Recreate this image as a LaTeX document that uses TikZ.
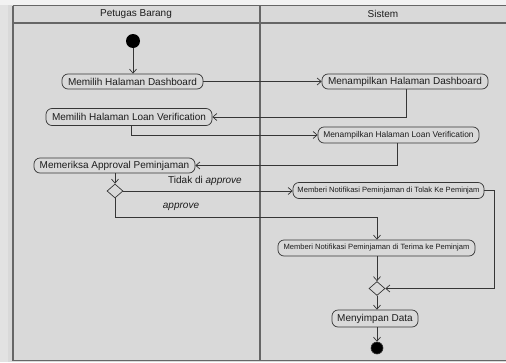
\documentclass[tikz,border=0pt]{standalone}
\usepackage{fontspec}
\setmainfont{Liberation Sans}
\usetikzlibrary{arrows.meta,shapes.geometric}
\definecolor{lanebg}{HTML}{D9D9D9}
\definecolor{edgebg}{HTML}{E2E2E2}
\definecolor{topbg}{HTML}{F2F2F2}
\definecolor{framecol}{HTML}{666666}
\definecolor{inkcol}{HTML}{363636}
\definecolor{txtcol}{HTML}{1C1C1C}
\begin{document}
\begin{tikzpicture}[x=1pt,y=-1pt,
  act/.style={draw=inkcol,line width=0.7pt,rounded corners=6pt,fill=lanebg,
    inner sep=0pt,text=txtcol,font=\fontsize{10}{12}\selectfont},
  actsmall/.style={act,font=\fontsize{8.4}{10}\selectfont},
  acttiny/.style={act,font=\fontsize{7.6}{9}\selectfont},
  decision/.style={draw=inkcol,line width=0.7pt,fill=lanebg,diamond,inner sep=0pt,
    minimum width=16pt,minimum height=14pt},
  startnode/.style={circle,fill=black,inner sep=0pt,minimum size=14pt},
  endnode/.style={circle,fill=black,draw=inkcol,line width=0.6pt,inner sep=0pt,minimum size=12pt},
  flow/.style={draw=inkcol,line width=0.7pt,-{Straight Barb[length=4pt,width=7pt]}},
  lane/.style={draw=framecol,line width=1.3pt},
  guard/.style={text=txtcol,font=\fontsize{10}{12}\selectfont}]
\useasboundingbox (0,0) rectangle (506,362);
\clip (0,0) rectangle (506,362);
% backgrounds
\fill[topbg] (0,0) rectangle (506,362);
\fill[edgebg] (0,5) rectangle (8,362);
\fill[lanebg] (8,5) rectangle (506,362);
% swimlane frame
\draw[lane] (13,5.5) -- (512,5.5);
\draw[lane] (13,23) -- (512,23);
\draw[lane] (13,5.5) -- (13,360.5);
\draw[lane] (260,5.5) -- (260,360.5);
\draw[lane] (13,360.5) -- (512,360.5);
\node[guard] (laneA) at (136,14) {Petugas Barang};
\node[guard] (laneB) at (383,14) {Sistem};
% activity nodes
\node[startnode] (start) at (133,41) {};
\node[act,minimum width=141pt,minimum height=15pt] (dash) at (132.5,81.5) {Memilih Halaman Dashboard};
\node[act,minimum width=166pt,minimum height=15pt] (mdash) at (405,81.5) {Menampilkan Halaman Dashboard};
\node[act,minimum width=166pt,minimum height=17pt] (loan) at (129,117) {Memilih Halaman Loan Verification};
\node[actsmall,minimum width=161pt,minimum height=16pt] (mloan) at (398.5,135) {Menampilkan Halaman Loan Verification};
\node[act,minimum width=161pt,minimum height=15pt] (periksa) at (114.5,165.5) {Memeriksa Approval Peminjaman};
\node[decision] (d1) at (115,191) {};
\node[acttiny,minimum width=191pt,minimum height=16pt] (tolak) at (388.5,190.5) {Memberi Notifikasi Peminjaman di Tolak Ke Peminjam};
\node[acttiny,minimum width=197pt,minimum height=16pt] (terima) at (376.5,248) {Memberi Notifikasi Peminjaman di Terima ke Peminjam};
\node[decision] (d2) at (377,288.5) {};
\node[act,minimum width=86pt,minimum height=17pt] (simpan) at (375,318.5) {Menyimpan Data};
\node[endnode] (stop) at (377,348) {};
% guards
\node[guard] (gno) at (205,181) {Tidak di \textit{approve}};
\node[guard] (gyes) at (181,207) {\textit{approve}};
% control flows
\draw[flow] (start) -- (start |- dash.north);
\draw[flow] (dash.east) -- (mdash.west);
\draw[flow] ([xshift=1pt]mdash.south) |- (loan.east);
\draw[flow] ([xshift=2pt]loan.south) |- (mloan.west);
\draw[flow] ([xshift=-1.5pt]mloan.south) |- (periksa.east);
\draw[flow] (periksa.south -| d1.north) -- (d1.north);
\draw[flow] (d1.east) -- (d1.east -| tolak.west);
\draw[flow] (d1.south) -- ++(0,19) -| ([xshift=0.5pt]terima.north);
\draw[flow] (tolak.east) -- ++(10,0) |- (d2.east);
\draw[flow] (terima.south -| d2.north) -- (d2.north);
\draw[flow] (d2.south) -- (d2.south |- simpan.north);
\draw[flow] (simpan.south -| stop) -- (stop.north);
\end{tikzpicture}
\end{document}
